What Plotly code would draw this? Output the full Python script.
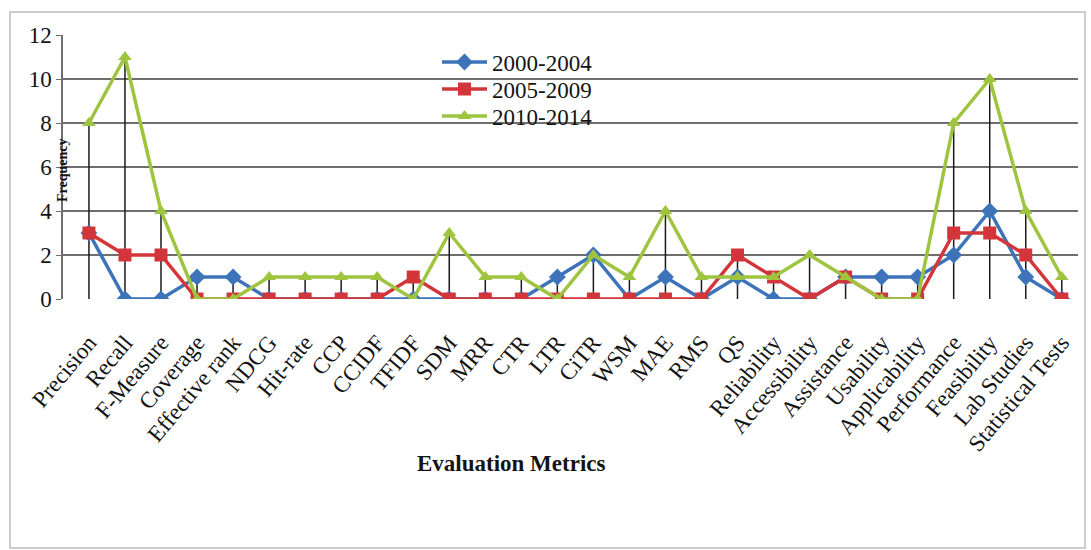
import plotly.graph_objects as go

categories = ["Precision", "Recall", "F-Measure", "Coverage", "Effective rank", "NDCG",
              "Hit-rate", "CCP", "CCIDF", "TFIDF", "SDM", "MRR", "CTR", "LTR", "CiTR",
              "WSM", "MAE", "RMS", "QS", "Reliability", "Accessibility", "Assistance",
              "Usability", "Applicability", "Performance", "Feasibility", "Lab Studies",
              "Statistical Tests"]

s2000 = [3, 0, 0, 1, 1, 0, 0, 0, 0, 0, 0, 0, 0, 1, 2, 0, 1, 0, 1, 0, 0, 1, 1, 1, 2, 4, 1, 0]
s2005 = [3, 2, 2, 0, 0, 0, 0, 0, 0, 1, 0, 0, 0, 0, 0, 0, 0, 0, 2, 1, 0, 1, 0, 0, 3, 3, 2, 0]
s2010 = [8, 11, 4, 0, 0, 1, 1, 1, 1, 0, 3, 1, 1, 0, 2, 1, 4, 1, 1, 1, 2, 1, 0, 0, 8, 10, 4, 1]

series_names = ["2000-2004", "2005-2009", "2010-2014"]

FONT = "Liberation Serif, Times New Roman, serif"
TXT = "#141414"
idx = list(range(len(categories)))

L, T, R, B = 63, 35, 13, 251
pw = 1091 - L - R
ph = 550 - T - B

def px(xp):
    return (xp - L) / pw

def py(yp):
    return (550 - B - yp) / ph

fig = go.Figure()

# drop lines (Excel style) from the axis up to the highest point of each category
dx, dy = [], []
for i, vals in enumerate(zip(s2000, s2005, s2010)):
    dx += [i, i, None]
    dy += [0, max(vals), None]
fig.add_trace(go.Scatter(x=dx, y=dy, mode="lines", line=dict(color="#1a1a1a", width=1.5),
                         showlegend=False, hoverinfo="skip"))

styles = [
    ("#3c73b9", "diamond", 13),
    ("#d3363a", "square", 13),
    ("#9ec440", "triangle-up", 12),
]
legend_ids = ["legend", "legend2", "legend3"]
for name, vals, (col, sym, sz), lg in zip(series_names, [s2000, s2005, s2010], styles, legend_ids):
    fig.add_trace(go.Scatter(x=idx, y=vals, mode="lines+markers", name=name, legend=lg,
                             line=dict(color=col, width=3.5),
                             marker=dict(symbol=sym, size=sz, color=col)))

leg_common = dict(xanchor="left", yanchor="middle", bgcolor="rgba(0,0,0,0)",
                  font=dict(family=FONT, size=23, color=TXT), itemwidth=45,
                  borderwidth=0)
legend_rows = [62, 89, 116]

fig.update_layout(
    width=1091, height=550,
    margin=dict(l=L, r=R, t=T, b=B),
    paper_bgcolor="white", plot_bgcolor="white",
    font=dict(family=FONT, color=TXT),
    showlegend=True,
    legend=dict(x=px(437), y=py(legend_rows[0]), **leg_common),
    legend2=dict(x=px(437), y=py(legend_rows[1]), **leg_common),
    legend3=dict(x=px(437), y=py(legend_rows[2]), **leg_common),
    xaxis=dict(range=[-0.72, 27.45], tickmode="array", tickvals=idx, ticktext=categories,
               tickangle=-50, tickfont=dict(family=FONT, size=23, color=TXT),
               showgrid=False, zeroline=False, showline=False,
               ticks="outside", ticklen=20, tickcolor="rgba(0,0,0,0)"),
    yaxis=dict(range=[0, 12], tickvals=[0, 2, 4, 6, 8, 10, 12],
               tickfont=dict(family=FONT, size=23, color=TXT),
               showgrid=True, gridcolor="#6e6e6e", gridwidth=1.5,
               zeroline=False, showline=True, linecolor="#6e6e6e", linewidth=1.5,
               ticks="outside", ticklen=5, tickcolor="#6e6e6e"),
    annotations=[
        dict(text="<b>Evaluation Metrics</b>", x=px(511), y=py(463), xref="paper", yref="paper",
             xanchor="center", yanchor="middle",
             showarrow=False, font=dict(family=FONT, size=23, color=TXT)),
        dict(text="<b>Frequency</b>", x=px(62), y=py(170), xref="paper", yref="paper",
             xanchor="center", yanchor="middle",
             showarrow=False, textangle=-90, font=dict(family=FONT, size=14, color=TXT)),
    ],
    shapes=[
        dict(type="rect", xref="paper", yref="paper", x0=px(10), x1=px(1085), y0=py(548), y1=py(12),
             line=dict(color="#bdbdbd", width=1.5), layer="below"),
    ],
)

fig.write_html("out.html")
